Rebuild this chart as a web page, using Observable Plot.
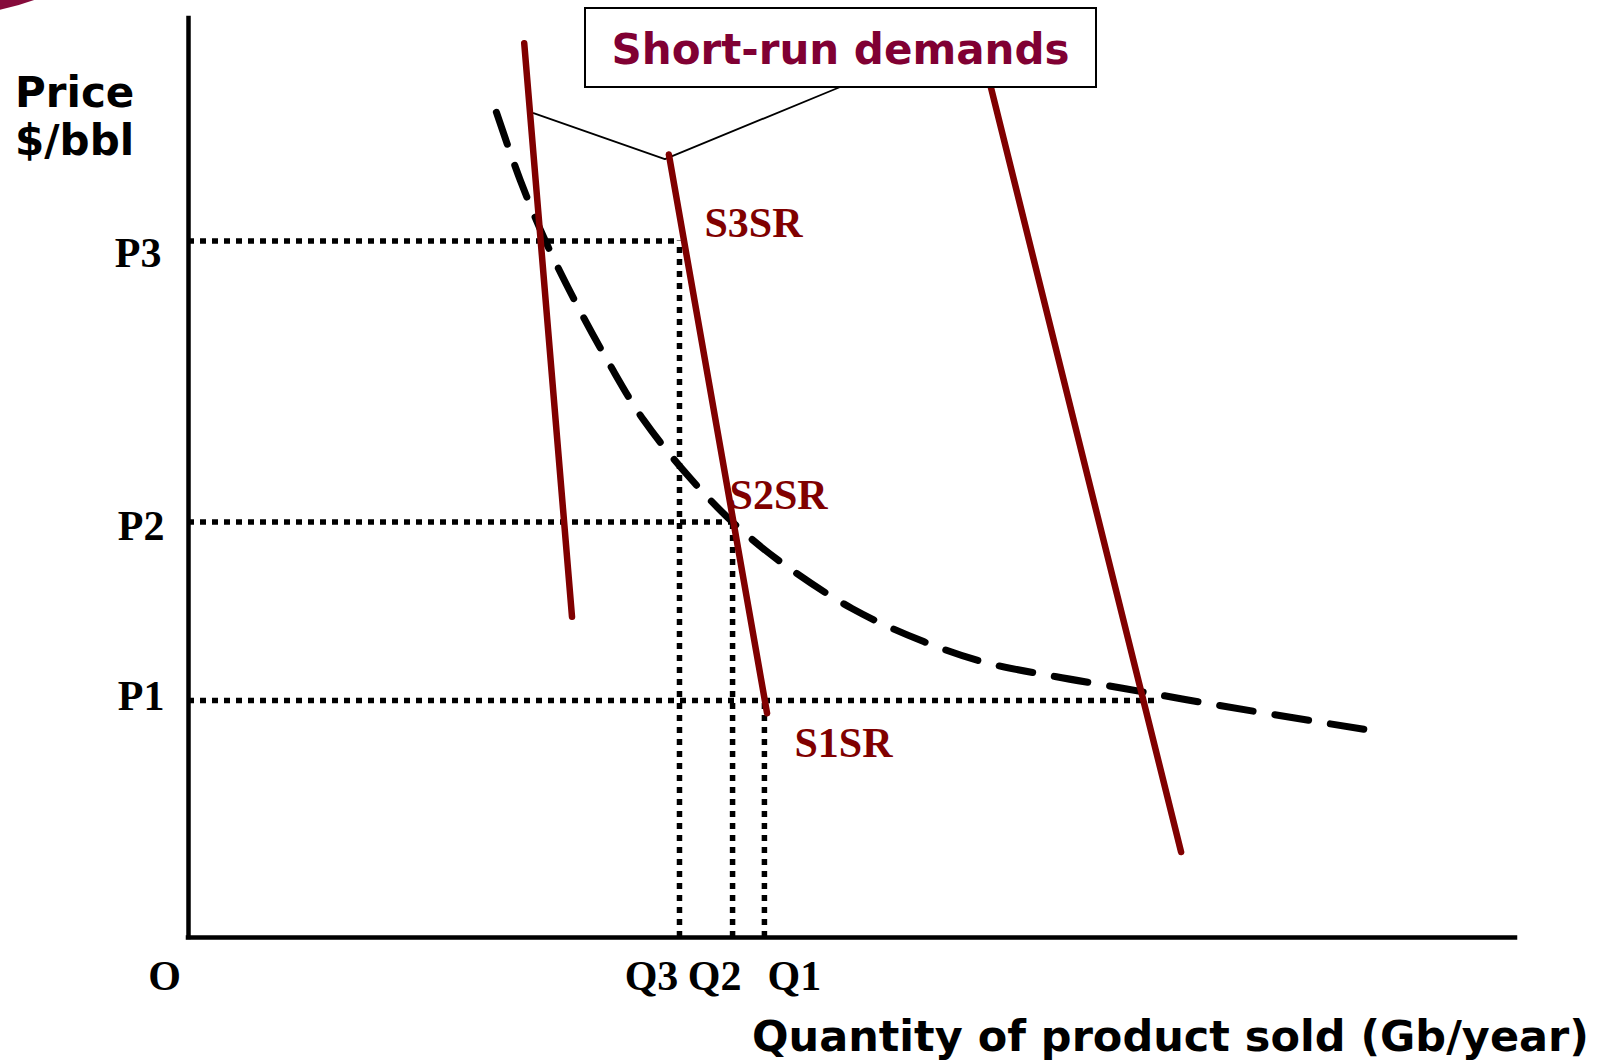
<!DOCTYPE html>
<html>
<head>
<meta charset="utf-8">
<script src="https://cdn.jsdelivr.net/npm/d3@7"></script>
<script src="https://cdn.jsdelivr.net/npm/@observablehq/plot@0.6"></script>
<style>
  html, body { margin: 0; padding: 0; background: #fff; overflow: hidden; }
  #wrap { position: relative; width: 1609px; height: 1061px; overflow: hidden; }
  #chart { position: absolute; left: 0; top: 0; }
  .sans { position: absolute; font-family: "DejaVu Sans", sans-serif; font-weight: bold; font-size: 42px; line-height: 42px; color: #000; white-space: nowrap; }
  #logo { position: absolute; left: -269px; top: -436px; width: 450px; height: 450px; border-radius: 50%; background: #860b3b; }
  #box { position: absolute; left: 584px; top: 7px; width: 513px; height: 81px; box-sizing: border-box; border: 2px solid #000; background: #fff; }
  #box .sans { left: 0; width: 100%; text-align: center; top: 20px; color: #800033; }
</style>
</head>
<body>
<div id="wrap">
  <div id="logo"></div>
  <div id="chart"></div>
  <div class="sans" id="ylab1" style="left:15px; top:72px;">Price</div>
  <div class="sans" id="ylab2" style="left:15px; top:120px;">$/bbl</div>
  <div class="sans" id="xlab" style="left:752px; top:1015px; font-size:43px;">Quantity of product sold (Gb/year)</div>
  <div id="box"><div class="sans">Short-run demands</div></div>
</div>
<script>
// ---- data ----
const priceTicks = [
  {label: "P3", value: 75.8},
  {label: "P2", value: 45.2},
  {label: "P1", value: 25.8}
];
const quantityTicks = [
  {label: "Q3", value: 37.0},
  {label: "Q2", value: 41.0},
  {label: "Q1", value: 43.4}
];
const originLabel = "O";
const supplyLabels = ["S3SR", "S2SR", "S1SR"];
const p1Extent = 73.0;

// short-run demand lines (quantity, price)
const demandA = [{q: 25.3, p: 97.3}, {q: 28.9, p: 34.9}];
const demandB = [{q: 36.2, p: 85.2}, {q: 43.6, p: 24.4}];
const demandC = [{q: 60.4, p: 92.9}, {q: 74.8, p: 9.3}];

// long-run demand curve (dashed)
const longRunQ = [23.2, 25.0, 26.8, 29.0, 31.8, 34.3, 37.8, 41.0, 44.5, 50.0, 55.4, 60.1, 65.3, 70.5, 75.1, 81.2, 88.8];
const longRunP = [89.8, 82.4, 76.1, 69.6, 62.2, 56.3, 50.0, 45.2, 41.0, 35.8, 32.2, 29.9, 28.4, 27.1, 25.9, 24.4, 22.6];

// leader lines from the "Short-run demands" box
const leader = [{q: 26.0, p: 89.7}, {q: 35.9, p: 84.7}, {q: 49.2, p: 92.6}];

// ---- build ----
const longRun = longRunQ.map((q, i) => ({q, p: longRunP[i]}));
const P = Object.fromEntries(priceTicks.map(d => [d.label, d.value]));
const Q = Object.fromEntries(quantityTicks.map(d => [d.label, d.value]));

const hDots = [
  {p: P.P3, q2: Q.Q3},
  {p: P.P2, q2: Q.Q2},
  {p: P.P1, q2: p1Extent}
];
const vDots = [
  {q: Q.Q3, p2: P.P3},
  {q: Q.Q2, p2: P.P2},
  {q: Q.Q1, p2: P.P1}
];

const red = "#800000";
const serif = "Liberation Serif, Times New Roman, serif";
const dotStyle = {stroke: "#000", strokeWidth: 5.5, strokeDasharray: "6,6"};
const lab = {fontFamily: serif, fontWeight: "bold", fontSize: 42};

const plot = Plot.plot({
  width: 1609,
  height: 1061,
  marginLeft: 188,
  marginRight: 94,
  marginTop: 18,
  marginBottom: 124,
  x: {domain: [0, 100], axis: null},
  y: {domain: [0, 100], axis: null},
  style: {background: "transparent", overflow: "visible"},
  marks: [
    Plot.ruleY(hDots, {y: "p", x1: 0, x2: "q2", ...dotStyle}),
    Plot.ruleX(vDots, {x: "q", y1: 0, y2: "p2", ...dotStyle}),
    Plot.line(longRun, {x: "q", y: "p", curve: "catmull-rom", stroke: "#000", strokeWidth: 7, strokeDasharray: "34,22"}),
    Plot.line(leader, {x: "q", y: "p", stroke: "#000", strokeWidth: 1.8}),
    Plot.line(demandA, {x: "q", y: "p", stroke: red, strokeWidth: 6.5}),
    Plot.line(demandB, {x: "q", y: "p", stroke: red, strokeWidth: 6.5}),
    Plot.line(demandC, {x: "q", y: "p", stroke: red, strokeWidth: 6.5}),
    Plot.ruleX([0], {y1: 0, y2: 100, stroke: "#000", strokeWidth: 4.5, strokeLinecap: "square"}),
    Plot.ruleY([0], {x1: 0, x2: 100, stroke: "#000", strokeWidth: 4.5, strokeLinecap: "square"}),
    // price tick labels
    Plot.text([priceTicks[0]], {x: 0, y: "value", text: "label", textAnchor: "end", dx: -27, dy: 13, ...lab}),
    Plot.text([priceTicks[1]], {x: 0, y: "value", text: "label", textAnchor: "end", dx: -24, dy: 4, ...lab}),
    Plot.text([priceTicks[2]], {x: 0, y: "value", text: "label", textAnchor: "end", dx: -24, dy: -4, ...lab}),
    // quantity tick labels
    Plot.text([originLabel], {x: 0, y: 0, text: d => d, dx: -24, dy: 39, ...lab}),
    Plot.text([quantityTicks[0]], {x: "value", y: 0, text: "label", dx: -28, dy: 39, ...lab}),
    Plot.text([quantityTicks[1]], {x: "value", y: 0, text: "label", dx: -18, dy: 39, ...lab}),
    Plot.text([quantityTicks[2]], {x: "value", y: 0, text: "label", dx: 30, dy: 39, ...lab}),
    // short-run supply point labels
    Plot.text([supplyLabels[0]], {x: Q.Q3, y: P.P3, text: d => d, textAnchor: "start", dx: 25, dy: -17, fill: red, ...lab}),
    Plot.text([supplyLabels[1]], {x: Q.Q2, y: P.P2, text: d => d, textAnchor: "start", dx: -3, dy: -27, fill: red, ...lab}),
    Plot.text([supplyLabels[2]], {x: Q.Q1, y: P.P1, text: d => d, textAnchor: "start", dx: 30, dy: 43, fill: red, ...lab})
  ]
});
document.getElementById("chart").appendChild(plot);
</script>
</body>
</html>
